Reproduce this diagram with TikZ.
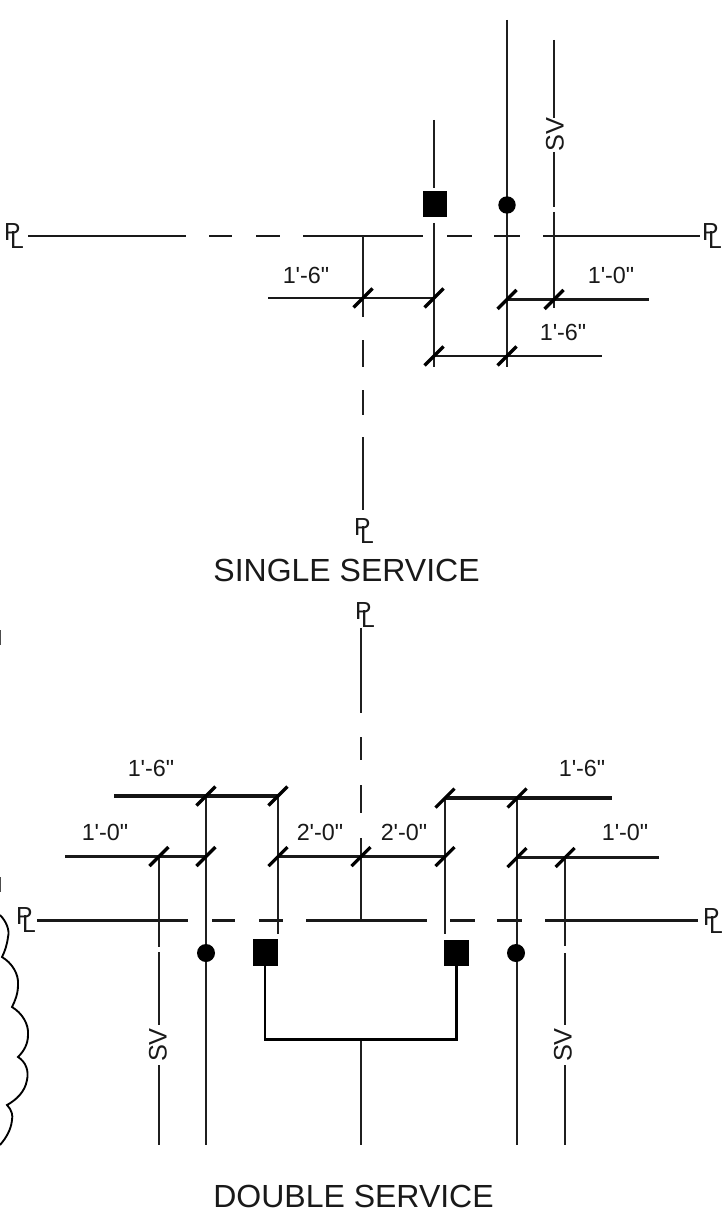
\documentclass[tikz,border=0pt]{standalone}
\usepackage{fontspec}
\setmainfont{Liberation Sans}[Ligatures=TeXOff]
\newcommand{\PLmark}{\fontsize{18.5}{19}\selectfont\hbox{P\kern-.42em\lower.3em\hbox{L}}}
\tikzset{
  ln/.style={line width=1.45pt,draw=black!88},
  dim/.style={line width=1.7pt,draw=black!90},
  thickdim/.style={line width=2.4pt,draw=black!92},
  tickm/.style={line width=2.4pt,draw=black},
  lbl/.style={font=\fontsize{17.5}{18}\selectfont,inner sep=0pt,text=black!90},
  svl/.style={font=\fontsize{19}{20}\selectfont,inner sep=0pt,text=black!90,rotate=90},
  ttl/.style={font=\fontsize{24}{25}\selectfont,inner sep=0pt,text=black!90},
  plm/.style={inner sep=0pt,text=black!90},
  sq/.style={fill=black,draw=none},
  cir/.style={fill=black,draw=none},
}
\newcommand{\ticks}[2]{\foreach \tx in {#2}{\draw[tickm] (\tx-9.5,#1+9.5) -- (\tx+9.5,#1-9.5);}}
\begin{document}
\begin{tikzpicture}[x=0.75pt,y=-0.75pt]
\useasboundingbox (0,0) rectangle (725,1230);
% --- single service
\foreach \a/\b in {28/186,209/232,256/280,303/423,447/472,494/520,543/700}{\draw[dim] (\a,236) -- (\b,236);}
\foreach \a/\b in {236/317,340/367,390/415,437/510}{\draw[ln] (363,\a) -- (363,\b);}
\draw[ln] (434,120) -- (434,188);
\draw[ln] (434,223) -- (434,367);
\draw[ln] (507,20) -- (507,367);
\draw[ln] (554,40) -- (554,118);
\draw[ln] (554,152) -- (554,207);
\draw[ln] (554,212) -- (554,308);
\fill[sq] (423,191) rectangle (447,217);
\fill[cir] (507,205) circle (8.7);
\draw[dim] (268,298) -- (434,298);
\draw[dim] (507,299.5) -- (649,299.5);
\draw[dim] (434,356) -- (602,356);
\ticks{298}{363,434}
\ticks{299.5}{507,554}
\ticks{356}{434,507}
\node[plm] (plA) at (14,236) {\PLmark};
\node[plm] (plB) at (712,236) {\PLmark};
\node[plm] (plC) at (364,531) {\PLmark};
\node[lbl] (a1) at (306,275) {1'-6"};
\node[lbl] (a2) at (611,275) {1'-0"};
\node[lbl] (a3) at (563,332) {1'-6"};
\node[svl] (sv1) at (555,135) {SV};
\node[ttl] (t1) at (346.5,570) {SINGLE SERVICE};
% --- double service
\node[plm] (plD) at (365,615) {\PLmark};
\foreach \a/\b in {628/713,737/760,785/813,838/920}{\draw[ln] (361,\a) -- (361,\b);}
\foreach \a/\b in {37/188,212/235,259/283,306/427,450/475,497/522,545/698}{\draw[dim] (\a,920.5) -- (\b,920.5);}
\draw[ln] (159,857) -- (159,947);
\draw[ln] (159,952) -- (159,1025);
\draw[ln] (159,1065) -- (159,1145);
\draw[ln] (206,796) -- (206,1145);
\draw[ln] (278,796) -- (278,934);
\draw[ln] (445,798) -- (445,934);
\draw[ln] (517,798) -- (517,1145);
\draw[ln] (565,857) -- (565,946);
\draw[ln] (565,953) -- (565,1025);
\draw[ln] (565,1065) -- (565,1145);
\draw[ln] (361,1040) -- (361,1145);
\fill[sq] (253,939) rectangle (278,966);
\fill[sq] (444,940) rectangle (469,966);
\fill[cir] (206,953) circle (9);
\fill[cir] (516,953) circle (9);
\draw[line width=1.9pt] (265,966) -- (265,1039.5) -- (456.5,1039.5) -- (456.5,966);
\draw[thickdim] (114,796) -- (278,796);
\draw[thickdim] (445,798) -- (612,798);
\draw[dim] (65,856.5) -- (206,856.5);
\draw[dim] (278,856.5) -- (445,856.5);
\draw[dim] (517,857.5) -- (659,857.5);
\ticks{796}{206,278}
\ticks{798}{445,517}
\ticks{856.5}{159,206,278,361,445}
\ticks{857.5}{517,565}
\node[plm] (plE) at (26,920) {\PLmark};
\node[plm] (plF) at (713,921) {\PLmark};
\node[lbl] (b1) at (151,768) {1'-6"};
\node[lbl] (b2) at (105,832) {1'-0"};
\node[lbl] (b3) at (320,832) {2'-0"};
\node[lbl] (b4) at (404,832) {2'-0"};
\node[lbl] (b5) at (582,768) {1'-6"};
\node[lbl] (b6) at (625,832) {1'-0"};
\node[svl] (sv2) at (158,1045) {SV};
\node[svl] (sv3) at (563,1045) {SV};
\node[ttl] (t2) at (353.5,1196) {DOUBLE SERVICE};
% --- scalloped edge
\draw[line width=1.4pt] (0,915) .. controls (6,921) and (10,930) .. (8,937) .. controls (7,945) and (5,951) .. (2,957)
  .. controls (12,963) and (19,974) .. (18,985) .. controls (18,994) and (15,1001) .. (12,1007)
  .. controls (22,1013) and (29,1024) .. (28,1035) .. controls (28,1044) and (24,1051) .. (18,1057)
  .. controls (26,1062) and (29,1071) .. (27,1080) .. controls (25,1092) and (16,1100) .. (7,1105)
  .. controls (12,1110) and (13,1116) .. (12,1120) .. controls (11,1130) and (6,1138) .. (0,1145);
\draw[line width=1.2pt,draw=black!70] (0.5,630) -- (0.5,645);
\draw[line width=1.2pt,draw=black!70] (0.5,877) -- (0.5,892);
\end{tikzpicture}
\end{document}
